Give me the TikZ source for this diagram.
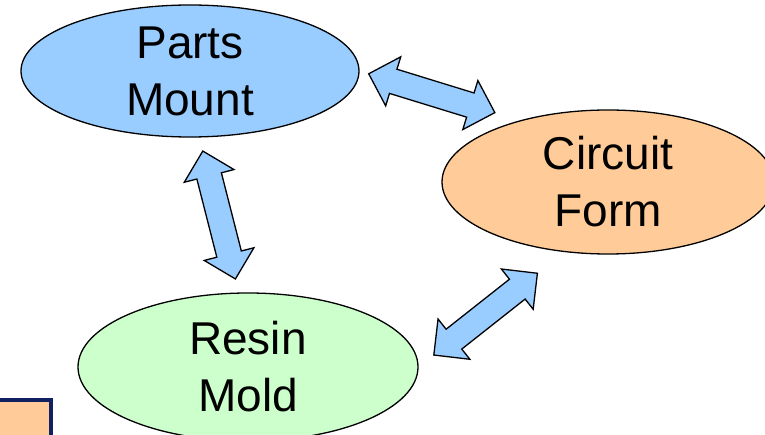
\documentclass[tikz,border=0pt]{standalone}
\usepackage{fontspec}
\setmainfont{Liberation Sans}
\usetikzlibrary{shapes.geometric,shapes.arrows}

\definecolor{mountblue}{RGB}{153,204,255}
\definecolor{formorange}{RGB}{255,204,153}
\definecolor{moldgreen}{RGB}{204,255,204}
\definecolor{boxnavy}{RGB}{16,32,96}

\tikzset{
    stage/.style={ellipse, draw=black, line width=1.3pt, inner sep=0pt,
        align=center, font=\fontsize{46}{57}\selectfont},
    linkarrow/.style={double arrow, draw=black, line width=1.3pt, fill=mountblue,
        inner xsep=0pt, inner ysep=12pt, minimum height=132,
        double arrow head extend=13, double arrow tip angle=90, sloped}
}

\begin{document}
\begin{tikzpicture}[x=1pt, y=-1pt]

    \useasboundingbox (0,0) rectangle (765,435);
    \clip (0,0) rectangle (765,435);

    % Corner box, cut by the frame
    \draw[line width=4pt, draw=boxnavy, fill=formorange] (-10,400) rectangle (50.5,445);

    % Parts Mount
    \node[stage, fill=mountblue, minimum width=338, minimum height=132] (mount) at (190,71) {Parts\\Mount};

    % Circuit Form
    \node[stage, fill=formorange, minimum width=332, minimum height=144] (form) at (608,182) {Circuit\\Form};

    % Resin Mold
    \node[stage, fill=moldgreen, minimum width=340, minimum height=148] (mold) at (248,367) {Resin\\Mold};

    % Links between the stages
    \path (mount.east) -- (form.145) node[linkarrow, pos=0.45] (mountform) {};
    \path (mount.-82) -- (mold.97) node[linkarrow, pos=0.5] (mountmold) {};
    \path (form.238) -- (mold.east) node[linkarrow, pos=0.54] (formmold) {};

\end{tikzpicture}
\end{document}
